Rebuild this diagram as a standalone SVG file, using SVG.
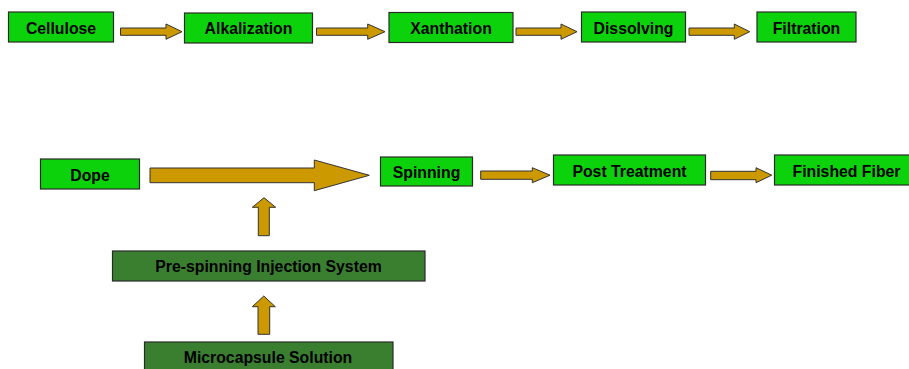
<svg xmlns="http://www.w3.org/2000/svg" width="909" height="369" viewBox="0 0 909 369">
<style>
.box{fill:#0CD20C;stroke:#2a2a2a;stroke-width:1.2}
.dbox{fill:#3A7F30;stroke:#2a2a2a;stroke-width:1.2}
.shadow{fill:none;stroke:#bdbdbd;stroke-width:1.5}
.lbl{font-family:"Liberation Sans",Arial,sans-serif;font-weight:bold;font-size:15.8px;fill:#000;text-anchor:middle}
.arr{fill:#CC9900;stroke:#333;stroke-width:1}
</style>
<rect width="909" height="369" fill="#fff"/>
<g id="cellulose"><rect class="box" x="8.5" y="12" width="105" height="30"/><text class="lbl" x="61" y="33.5">Cellulose</text></g>
<g id="alkalization"><rect class="box" x="184.5" y="13" width="128" height="30"/><text class="lbl" x="248.5" y="34">Alkalization</text></g>
<g id="xanthation"><rect class="box" x="389" y="12.5" width="124" height="30"/><text class="lbl" x="451" y="33.5">Xanthation</text></g>
<g id="dissolving"><rect class="box" x="581.5" y="12" width="104" height="30"/><text class="lbl" x="633.5" y="33.5">Dissolving</text></g>
<g id="filtration"><rect class="box" x="757" y="12" width="99" height="30"/><text class="lbl" x="806.5" y="33.5">Filtration</text></g>
<g id="dope"><rect class="box" x="40.5" y="159" width="99" height="30"/><text class="lbl" x="90" y="180.5">Dope</text></g>
<g id="spinning"><rect class="box" x="380.5" y="157" width="92" height="29"/><text class="lbl" x="426.5" y="177.5">Spinning</text></g>
<g id="post-treatment"><rect class="box" x="553.5" y="155" width="152" height="30"/><text class="lbl" x="629.5" y="176.5">Post Treatment</text></g>
<g id="finished-fiber"><rect class="box" x="774.5" y="155" width="146" height="30"/><text class="lbl" x="846.5" y="176.5">Finished Fiber</text></g>
<g id="pre-spinning"><rect class="dbox" x="112.5" y="251" width="312.5" height="30"/><text class="lbl" x="268.5" y="272">Pre-spinning Injection System</text></g>
<g id="microcapsule"><rect class="dbox" x="144.5" y="342" width="248.5" height="32"/><text class="lbl" x="268" y="362.5">Microcapsule Solution</text></g>
<g id="connectors">
<polygon class="arr" points="120.5,28 166,28 166,24 182,31.7 166,39.3 166,35.3 120.5,35.3"/>
<polygon class="arr" points="316.5,28 367.7,28 367.7,24 385,31.7 367.7,39.3 367.7,35.3 316.5,35.3"/>
<polygon class="arr" points="516,28 561,28 561,24 577,31.7 561,39.3 561,35.3 516,35.3"/>
<polygon class="arr" points="689,28 734.3,28 734.3,24 749.7,31.7 734.3,39.3 734.3,35.3 689,35.3"/>
<polygon class="arr" points="150,168 314.3,168 314.3,160 369.3,175.3 314.3,190.7 314.3,182.7 150,182.7"/>
<polygon class="arr" points="480.7,171 532.3,171 532.3,167.7 550,175.2 532.3,182.7 532.3,179.3 480.7,179.3"/>
<polygon class="arr" points="710.7,171.3 756,171.3 756,167.7 771.7,175.2 756,182.7 756,179.7 710.7,179.7"/>
<polygon class="arr" points="258.3,235.7 258.3,207.3 252.3,207.3 264,197.7 275.7,207.3 269.3,207.3 269.3,235.7"/>
<polygon class="arr" points="258,334.3 258,306.7 252.3,306.7 263.8,296 275.3,306.7 269.7,306.7 269.7,334.3"/>
</g>
</svg>
